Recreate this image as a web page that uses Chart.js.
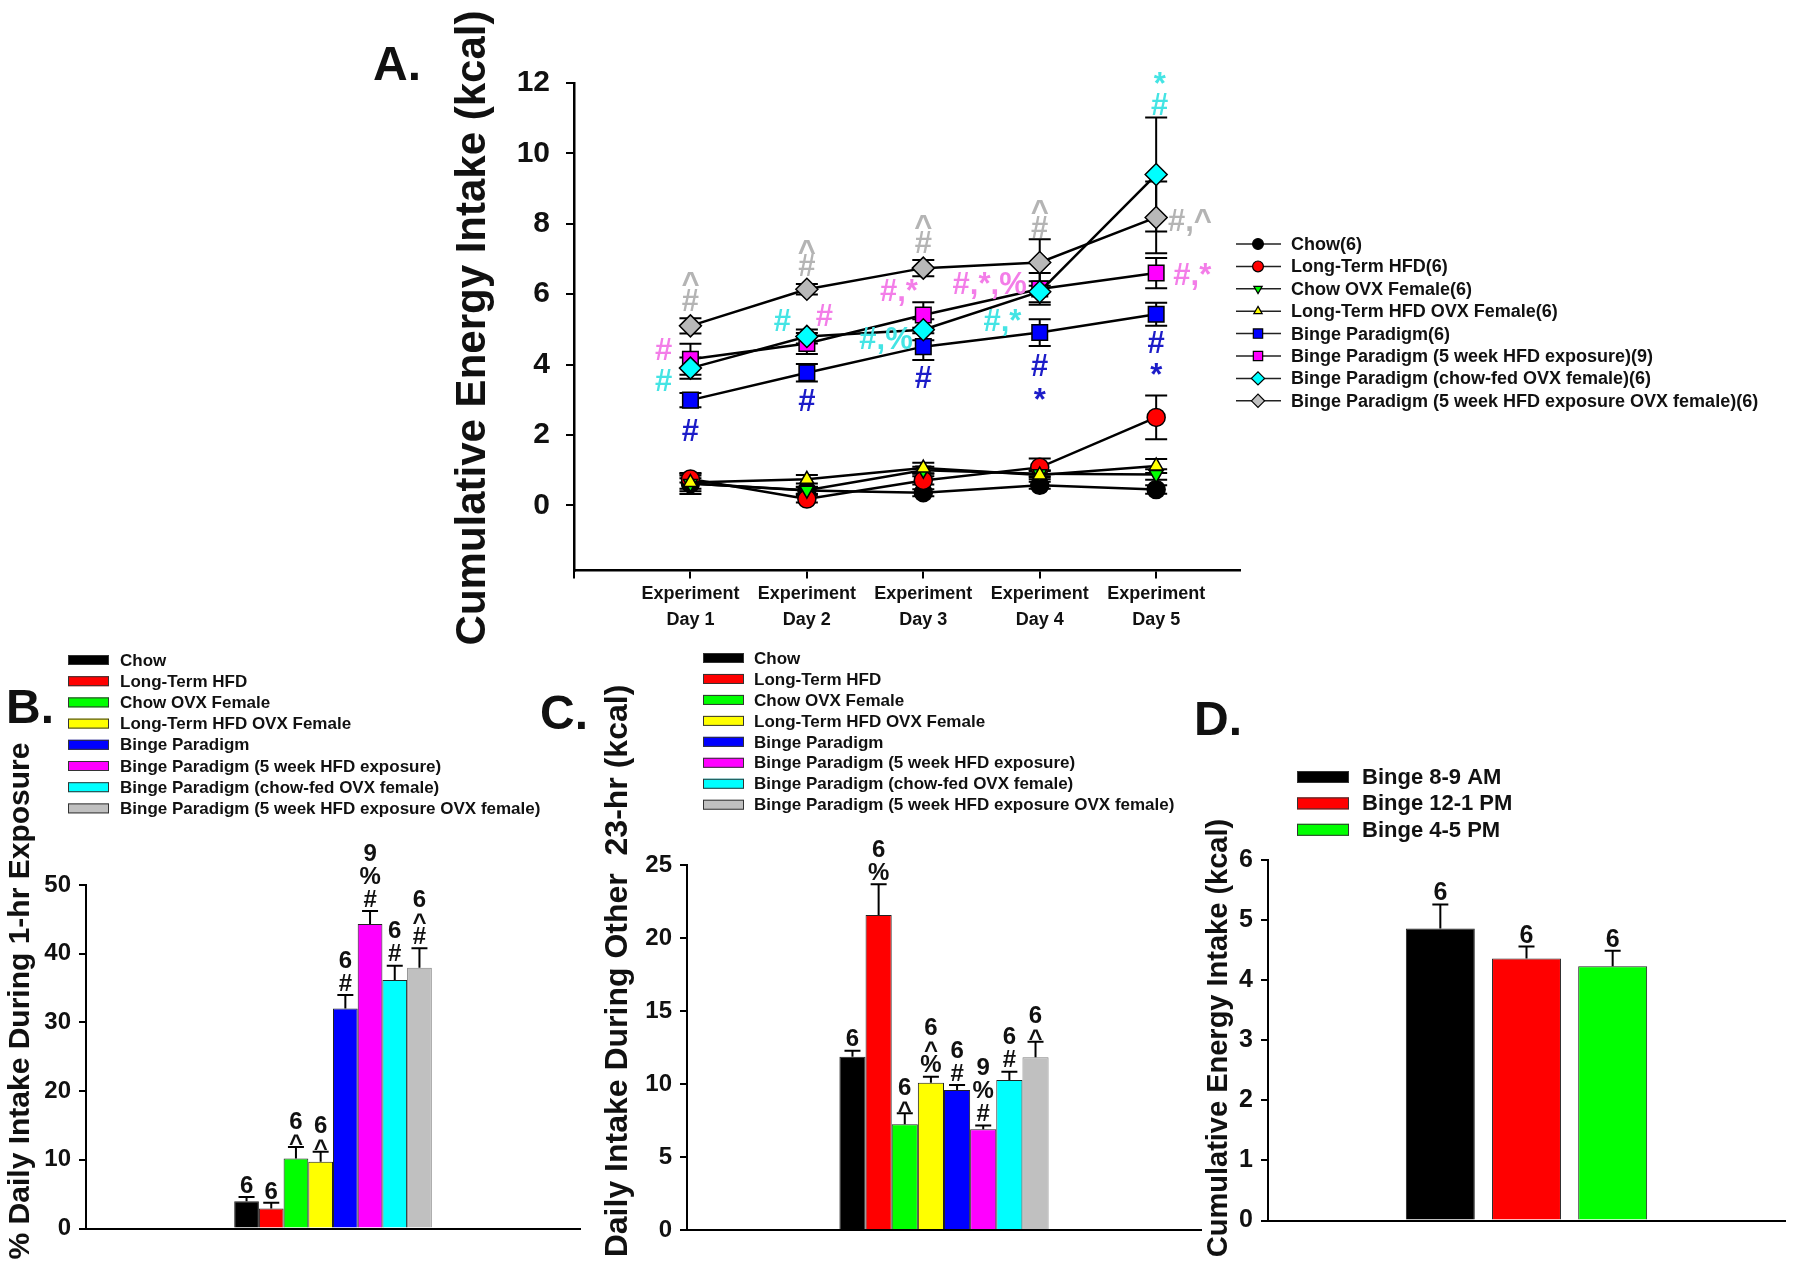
<!DOCTYPE html>
<html>
<head>
<meta charset="utf-8">
<script src="https://cdn.jsdelivr.net/npm/chart.js@4.4.1/dist/chart.umd.min.js"></script>
<style>
  body { margin: 0; background: #fff; }
  #wrap { position: relative; width: 1800px; height: 1270px; }
  #wrap canvas { position: absolute; left: 0; top: 0; }
</style>
</head>
<body>
<div id="wrap">
  <canvas id="cA" width="1800" height="1270"></canvas>
  <canvas id="cB" width="1800" height="1270"></canvas>
  <canvas id="cC" width="1800" height="1270"></canvas>
  <canvas id="cD" width="1800" height="1270"></canvas>
</div>
<script>
const FONT = '"Liberation Sans", Arial, Helvetica, sans-serif';
const NARROW = '"Liberation Sans Narrow", "Arial Narrow", "Liberation Sans", Arial, sans-serif';

// groups (same order in A, B, C)
const groupNames = ['Chow', 'Long-Term HFD', 'Chow OVX Female', 'Long-Term HFD OVX Female',
  'Binge Paradigm', 'Binge Paradigm (5 week HFD exposure)', 'Binge Paradigm (chow-fed OVX female)',
  'Binge Paradigm (5 week HFD exposure OVX female)'];
const groupN = [6, 6, 6, 6, 6, 9, 6, 6];
const groupColors = ['#000000', '#ff0000', '#00ff00', '#ffff00', '#0000ff', '#ff00ff', '#00ffff', '#c0c0c0'];
const sigColors = ['#000', '#000', '#000', '#000', '#1c1cc8', '#f37de8', '#44e4e4', '#b4b4b4'];

// Panel A: cumulative energy intake per experiment day (mean, sem)
const dayTicks = [1, 2, 3, 4, 5];
const dayLabels = ['Day 1', 'Day 2', 'Day 3', 'Day 4', 'Day 5'];
const aYTicks = [0, 2, 4, 6, 8, 10, 12];
const aChow = [0.62, 0.42, 0.36, 0.57, 0.45];
const aChowErr = [0.30, 0.10, 0.10, 0.10, 0.12];
const aLtHfd = [0.75, 0.18, 0.71, 1.08, 2.50];
const aLtHfdErr = [0.10, 0.10, 0.12, 0.25, 0.62];
const aChowOvx = [0.62, 0.43, 1.00, 0.90, 0.88];
const aChowOvxErr = [0.15, 0.10, 0.10, 0.10, 0.15];
const aLtHfdOvx = [0.65, 0.74, 1.06, 0.86, 1.12];
const aLtHfdOvxErr = [0.25, 0.12, 0.15, 0.12, 0.20];
const aBinge = [2.99, 3.77, 4.51, 4.91, 5.43];
const aBingeErr = [0.20, 0.25, 0.38, 0.38, 0.33];
const aBinge5w = [4.15, 4.60, 5.41, 6.15, 6.60];
const aBinge5wErr = [0.44, 0.30, 0.36, 0.45, 0.43];
const aBingeOvx = [3.90, 4.80, 4.99, 6.07, 9.40];
const aBingeOvxErr = [0.30, 0.20, 0.30, 0.30, 1.62];
const aBinge5wOvx = [5.10, 6.14, 6.74, 6.90, 8.18];
const aBinge5wOvxErr = [0.22, 0.15, 0.23, 0.66, 1.02];

// significance symbols in A (x = day, y = kcal, g = group colour)
const aSig = [
  {x: 1, y: 6.49, t: '^', g: 7}, {x: 1, y: 5.83, t: '#', g: 7},
  {x: 0.77, y: 4.46, t: '#', g: 5}, {x: 0.77, y: 3.56, t: '#', g: 6}, {x: 1, y: 2.14, t: '#', g: 4},
  {x: 2, y: 7.39, t: '^', g: 7}, {x: 2, y: 6.83, t: '#', g: 7},
  {x: 1.79, y: 5.27, t: '#', g: 6}, {x: 2.15, y: 5.41, t: '#', g: 5}, {x: 2, y: 2.99, t: '#', g: 4},
  {x: 3, y: 8.10, t: '^', g: 7}, {x: 3, y: 7.49, t: '#', g: 7},
  {x: 2.79, y: 6.12, t: '#,*', g: 5}, {x: 2.68, y: 4.75, t: '#,%', g: 6}, {x: 3, y: 3.66, t: '#', g: 4},
  {x: 4, y: 8.53, t: '^', g: 7}, {x: 4, y: 7.91, t: '#', g: 7},
  {x: 3.57, y: 6.31, t: '#,*,%', g: 5}, {x: 3.68, y: 5.27, t: '#,*', g: 6},
  {x: 4, y: 3.99, t: '#', g: 4}, {x: 4, y: 3.18, t: '*', g: 4},
  {x: 5.03, y: 12.17, t: '*', g: 6}, {x: 5.03, y: 11.42, t: '#', g: 6},
  {x: 5.29, y: 8.10, t: '#,^', g: 7}, {x: 5.31, y: 6.59, t: '#,*', g: 5},
  {x: 5, y: 4.65, t: '#', g: 4}, {x: 5, y: 3.89, t: '*', g: 4}
];

// Panel B: % daily intake during 1-hr exposure
const bPct = [3.98, 2.91, 10.19, 9.70, 32.04, 44.32, 36.16, 37.96];
const bPctErr = [0.62, 0.82, 1.69, 1.46, 1.94, 1.89, 2.09, 2.82];
const bMarks = [['6'], ['6'], ['^', '6'], ['^', '6'], ['#', '6'], ['#', '%', '9'], ['#', '6'], ['#', '^', '6']];

// Panel C: daily intake during other 23-hr (kcal)
const cKcal = [11.87, 21.58, 7.24, 10.09, 9.59, 6.90, 10.27, 11.83];
const cKcalErr = [0.41, 2.10, 0.75, 0.41, 0.34, 0.25, 0.57, 1.07];
const cMarks = [['6'], ['%', '6'], ['^', '6'], ['%', '^', '6'], ['#', '6'], ['#', '%', '9'], ['#', '6'], ['^', '6']];

// Panel D: binge time of day
const dNames = ['Binge 8-9 AM', 'Binge 12-1 PM', 'Binge 4-5 PM'];
const dColors = ['#000000', '#ff0000', '#00ff00'];
const dKcal = [4.86, 4.36, 4.23];
const dKcalErr = [0.40, 0.20, 0.26];
const dMarks = [['6'], ['6'], ['6']];

const aSeries = [
  {mean: aChow, err: aChowErr}, {mean: aLtHfd, err: aLtHfdErr},
  {mean: aChowOvx, err: aChowOvxErr}, {mean: aLtHfdOvx, err: aLtHfdOvxErr},
  {mean: aBinge, err: aBingeErr}, {mean: aBinge5w, err: aBinge5wErr},
  {mean: aBingeOvx, err: aBingeOvxErr}, {mean: aBinge5wOvx, err: aBinge5wOvxErr}
];
const aMarker = [
  {style: 'circle', rot: 0, r: 9}, {style: 'circle', rot: 0, r: 9},
  {style: 'triangle', rot: 180, r: 8}, {style: 'triangle', rot: 0, r: 8},
  {style: 'rect', rot: 0, r: 11}, {style: 'rect', rot: 0, r: 11},
  {style: 'rectRot', rot: 0, r: 11}, {style: 'rectRot', rot: 0, r: 11}
];

// ---- helpers
function vtitle(ctx, s, cx, cy, size) {
  ctx.save();
  ctx.translate(cx, cy);
  ctx.rotate(-Math.PI / 2);
  ctx.font = `bold ${size}px ${FONT}`;
  ctx.fillStyle = '#111';
  ctx.textAlign = 'center';
  ctx.textBaseline = 'middle';
  ctx.fillText(s, 0, 0);
  ctx.restore();
}
function panelLetter(ctx, s, x, y) {
  ctx.save();
  ctx.font = `bold 48px ${FONT}`;
  ctx.fillStyle = '#111';
  ctx.textBaseline = 'alphabetic';
  ctx.fillText(s, x, y);
  ctx.restore();
}
function barLegend(ctx, names, colors, o) {
  ctx.save();
  ctx.font = `bold ${o.size}px ${FONT}`;
  ctx.textBaseline = 'middle';
  ctx.fillStyle = '#111';
  names.forEach((n, i) => {
    const y = o.y0 + i * o.dy;
    ctx.fillStyle = colors[i];
    ctx.fillRect(o.x0, y - o.sh / 2, o.sw, o.sh);
    ctx.strokeStyle = '#333';
    ctx.lineWidth = 1;
    ctx.strokeRect(o.x0 + 0.5, y - o.sh / 2 + 0.5, o.sw - 1, o.sh - 1);
    ctx.fillStyle = '#111';
    ctx.fillText(n, o.tx, y + 1);
  });
  ctx.restore();
}
function marker(ctx, style, rot, r, x, y) {
  ctx.beginPath();
  if (style === 'circle') {
    ctx.arc(x, y, r, 0, Math.PI * 2);
  } else if (style === 'triangle') {
    const s = rot ? -1 : 1;
    ctx.moveTo(x, y - s * r);
    ctx.lineTo(x + r * 0.866, y + s * r * 0.5);
    ctx.lineTo(x - r * 0.866, y + s * r * 0.5);
    ctx.closePath();
  } else if (style === 'rect') {
    const h = r * Math.SQRT1_2;
    ctx.rect(x - h, y - h, 2 * h, 2 * h);
  } else {
    ctx.moveTo(x - r, y); ctx.lineTo(x, y - r); ctx.lineTo(x + r, y); ctx.lineTo(x, y + r);
    ctx.closePath();
  }
  ctx.fill();
  ctx.stroke();
}
function symOffset(t, fs) {
  return (t === '^' || t === '*') ? 0.54 * fs : 0.36 * fs;
}
function stackMarks(ctx, marks, x, capY, fs) {
  let y = capY - 2;
  marks.forEach(m => {
    const h = m === '^' ? 13 : 22;
    const c = y - h / 2;
    ctx.fillText(m, x, c + symOffset(m, fs));
    y -= h + 1;
  });
}

const axisGrid = {drawOnChartArea: false, drawTicks: true, tickLength: 7, color: '#000', lineWidth: 2};
const axisBorder = {display: true, color: '#000', width: 2};

// ---- Panel A
const plotA = {left: 574, right: 1240, top: 83, bottom: 570.5};
const errA = {
  id: 'errA',
  beforeDatasetsDraw(chart) {
    const {ctx} = chart;
    const y = chart.scales.y;
    ctx.save();
    ctx.strokeStyle = '#000';
    ctx.lineWidth = 2;
    aSeries.forEach((s, i) => {
      const meta = chart.getDatasetMeta(i);
      s.mean.forEach((m, j) => {
        const px = meta.data[j].x;
        const hi = y.getPixelForValue(m + s.err[j]);
        const lo = y.getPixelForValue(m - s.err[j]);
        ctx.beginPath();
        ctx.moveTo(px, hi); ctx.lineTo(px, lo);
        ctx.moveTo(px - 11, hi); ctx.lineTo(px + 11, hi);
        ctx.moveTo(px - 11, lo); ctx.lineTo(px + 11, lo);
        ctx.stroke();
      });
    });
    ctx.restore();
  },
  afterDraw(chart) {
    const {ctx} = chart;
    const {x, y} = chart.scales;
    const fs = 31;
    ctx.save();
    ctx.font = `bold ${fs}px ${FONT}`;
    ctx.textAlign = 'center';
    ctx.textBaseline = 'alphabetic';
    aSig.forEach(a => {
      ctx.fillStyle = sigColors[a.g];
      ctx.fillText(a.t, x.getPixelForValue(a.x), y.getPixelForValue(a.y) + symOffset(a.t, fs));
    });
    ctx.restore();

    // legend
    ctx.save();
    ctx.font = `bold 18px ${FONT}`;
    ctx.textBaseline = 'middle';
    groupNames.forEach((n, i) => {
      const ly = 244 + i * 22.4;
      ctx.strokeStyle = '#222';
      ctx.lineWidth = 1.5;
      ctx.beginPath(); ctx.moveTo(1236, ly); ctx.lineTo(1281, ly); ctx.stroke();
      ctx.fillStyle = groupColors[i];
      ctx.strokeStyle = '#000';
      ctx.lineWidth = 1.2;
      const mk = aMarker[i];
      marker(ctx, mk.style, mk.rot, mk.r * 0.6, 1258, ly);
      ctx.fillStyle = '#111';
      ctx.fillText(n + '(' + groupN[i] + ')', 1291, ly + 1);
    });
    ctx.restore();

    vtitle(ctx, 'Cumulative Energy Intake (kcal)', 473, 328, 42);
    panelLetter(ctx, 'A.', 373, 80);
  }
};

new Chart(document.getElementById('cA'), {
  type: 'line',
  data: {
    datasets: aSeries.map((s, i) => ({
      label: groupNames[i],
      data: dayTicks.map((d, j) => ({x: d, y: s.mean[j]})),
      borderColor: '#000',
      borderWidth: 2.5,
      pointBackgroundColor: groupColors[i] === '#c0c0c0' ? '#b8b8b8' : groupColors[i],
      pointBorderColor: '#000',
      pointBorderWidth: 1.5,
      pointStyle: aMarker[i].style,
      pointRotation: aMarker[i].rot,
      pointRadius: aMarker[i].r,
      tension: 0,
      fill: false,
      order: 8 - i
    }))
  },
  options: {
    responsive: false,
    animation: false,
    devicePixelRatio: 1,
    layout: {padding: {left: plotA.left - 80, right: 1800 - plotA.right, top: plotA.top, bottom: 1270 - plotA.bottom - 70}},
    plugins: {legend: {display: false}, tooltip: {enabled: false}},
    scales: {
      x: {
        type: 'linear', min: 0, max: 5.72,
        afterBuildTicks: s => { s.ticks = [0].concat(dayTicks).map(v => ({value: v})); },
        afterFit: s => { s.height = 70; },
        ticks: {
          autoSkip: false, maxRotation: 0, padding: 2, color: '#111',
          font: {family: NARROW, size: 18, weight: 'bold', lineHeight: 1.45},
          callback: v => { const k = dayTicks.indexOf(v); return k < 0 ? '' : ['Experiment', dayLabels[k]]; }
        },
        grid: {drawOnChartArea: false, drawTicks: true, tickLength: 8, color: '#000', lineWidth: 2},
        border: {display: true, color: '#000', width: 2.5}
      },
      y: {
        min: -1.85, max: 12,
        afterBuildTicks: s => { s.ticks = aYTicks.map(v => ({value: v})); },
        afterFit: s => { s.width = 80; },
        ticks: {color: '#111', padding: 16, font: {family: FONT, size: 30, weight: 'bold'}},
        grid: {drawOnChartArea: false, drawTicks: true, tickLength: 8, color: '#000', lineWidth: 2},
        border: {display: true, color: '#000', width: 2.5}
      }
    }
  },
  plugins: [errA]
});

// ---- bar panels
function barChart(id, p) {
  const errPlugin = {
    id: 'err' + id,
    afterDatasetsDraw(chart) {
      const {ctx} = chart;
      const y = chart.scales.y;
      ctx.save();
      ctx.strokeStyle = '#000';
      ctx.lineWidth = 2;
      ctx.fillStyle = '#111';
      ctx.textAlign = 'center';
      ctx.textBaseline = 'alphabetic';
      ctx.font = `bold ${p.fs}px ${FONT}`;
      p.values.forEach((v, i) => {
        const bar = chart.getDatasetMeta(i).data[0];
        const top = y.getPixelForValue(v + p.errs[i]);
        ctx.beginPath();
        ctx.moveTo(bar.x, bar.y); ctx.lineTo(bar.x, top);
        ctx.moveTo(bar.x - p.capW / 2, top); ctx.lineTo(bar.x + p.capW / 2, top);
        ctx.stroke();
        stackMarks(ctx, p.marks[i], bar.x, top, p.fs);
      });
      ctx.restore();
      p.decor(ctx);
    }
  };
  return new Chart(document.getElementById(id), {
    type: 'bar',
    data: {
      labels: [''],
      datasets: p.values.map((v, i) => ({
        label: p.names[i],
        data: [v],
        backgroundColor: p.colors[i],
        borderColor: p.colors[i] === '#c0c0c0' ? '#808080' : '#222',
        borderWidth: 1,
        barPercentage: p.barPct,
        categoryPercentage: p.catPct
      }))
    },
    options: {
      responsive: false,
      animation: false,
      devicePixelRatio: 1,
      layout: {padding: {left: p.box.left - 60, right: 1800 - p.box.right, top: p.box.top, bottom: 1270 - p.box.bottom - 4}},
      plugins: {legend: {display: false}, tooltip: {enabled: false}},
      scales: {
        x: {
          afterFit: s => { s.height = 4; },
          ticks: {display: false},
          grid: {display: false},
          border: axisBorder
        },
        y: {
          min: 0, max: p.yMax,
          afterFit: s => { s.width = 60; },
          ticks: {stepSize: p.yStep, color: '#111', padding: 8, font: {family: FONT, size: p.tickFs, weight: 'bold'}},
          grid: axisGrid,
          border: axisBorder
        }
      }
    },
    plugins: [errPlugin]
  });
}

barChart('cB', {
  values: bPct, errs: bPctErr, marks: bMarks, names: groupNames, colors: groupColors,
  box: {left: 86, right: 580, top: 885, bottom: 1228.5},
  yMax: 50, yStep: 10, catPct: 0.4, barPct: 1.0, capW: 16, fs: 24, tickFs: 24,
  decor: ctx => {
    barLegend(ctx, groupNames, groupColors, {x0: 68, y0: 660, dy: 21.2, sw: 41, sh: 10, tx: 120, size: 17});
    vtitle(ctx, '% Daily Intake During 1-hr Exposure', 21, 1001, 30);
    panelLetter(ctx, 'B.', 6, 723);
  }
});

barChart('cC', {
  values: cKcal, errs: cKcalErr, marks: cMarks, names: groupNames, colors: groupColors,
  box: {left: 687, right: 1201, top: 865, bottom: 1230},
  yMax: 25, yStep: 5, catPct: 0.407, barPct: 1.0, capW: 16, fs: 24, tickFs: 24,
  decor: ctx => {
    barLegend(ctx, groupNames, groupColors, {x0: 703, y0: 658, dy: 20.96, sw: 41, sh: 10, tx: 754, size: 17});
    vtitle(ctx, 'Daily Intake During Other  23-hr (kcal)', 618, 971, 32);
    panelLetter(ctx, 'C.', 540, 729);
  }
});

barChart('cD', {
  values: dKcal, errs: dKcalErr, marks: dMarks, names: dNames, colors: dColors,
  box: {left: 1268, right: 1785, top: 860, bottom: 1220.5},
  yMax: 6, yStep: 1, catPct: 0.5, barPct: 0.8, capW: 16, fs: 25, tickFs: 25,
  decor: ctx => {
    barLegend(ctx, dNames, dColors, {x0: 1297, y0: 777, dy: 26.4, sw: 52, sh: 12, tx: 1362, size: 22});
    vtitle(ctx, 'Cumulative Energy Intake (kcal)', 1219, 1038, 29);
    panelLetter(ctx, 'D.', 1194, 735);
  }
});
</script>
</body>
</html>
